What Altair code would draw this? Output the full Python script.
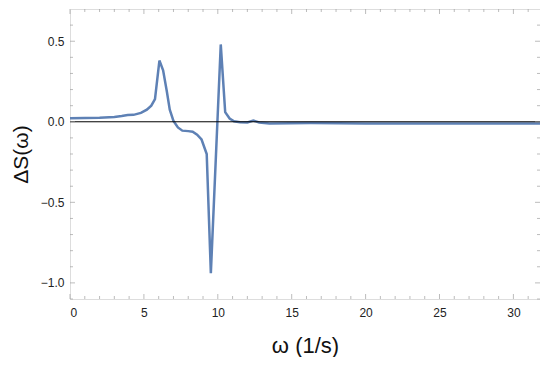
import altair as alt
import pandas as pd

# curve data
omega = [0.0, 1.0, 2.0, 3.0, 3.5, 3.9, 4.3, 4.8, 5.2, 5.5, 5.75, 6.05, 6.3, 6.55,
         6.75, 7.0, 7.3, 7.6, 8.0, 8.3, 8.6, 8.9, 9.25, 9.53, 10.2, 10.5, 10.8,
         11.1, 11.5, 12.0, 12.4, 12.8, 13.5, 16.3, 20.0, 25.0, 31.8]
dS = [0.022, 0.023, 0.025, 0.030, 0.036, 0.042, 0.043, 0.055, 0.075, 0.100, 0.140,
      0.380, 0.320, 0.190, 0.075, 0.005, -0.035, -0.055, -0.058, -0.062, -0.080,
      -0.110, -0.200, -0.940, 0.480, 0.060, 0.020, 0.003, -0.003, -0.004, 0.008,
      -0.004, -0.010, -0.008, -0.010, -0.010, -0.010]

x_major = [0, 5, 10, 15, 20, 25, 30]
x_minor = [i for i in range(32) if i % 5]
y_major = [-1.0, -0.5, 0.0, 0.5]
y_minor = [-1.1, -0.9, -0.8, -0.7, -0.6, -0.4, -0.3, -0.2, -0.1,
           0.1, 0.2, 0.3, 0.4, 0.6]

W, H = 470, 290
FONT = "Liberation Sans"
FRAME = "#a0a0a0"

df = pd.DataFrame({"omega": omega, "dS": dS})
xs = alt.Scale(domain=[0, 31.8], nice=False, zero=False)
ys = alt.Scale(domain=[-1.1, 0.7], nice=False, zero=False)

line = alt.Chart(df).mark_line(color="#5E81B5", strokeWidth=2.5, clip=True).encode(
    x=alt.X("omega:Q", scale=xs,
            axis=alt.Axis(values=x_major, ticks=False, domain=False, grid=False,
                          labelFont=FONT, labelFontSize=12, labelColor="#222",
                          labelPadding=8, title="ω (1/s)", titleFont=FONT,
                          titleFontSize=22, titleFontWeight="normal",
                          titleColor="#111", titlePadding=17)),
    y=alt.Y("dS:Q", scale=ys,
            axis=alt.Axis(values=y_major, format=".1f", ticks=False, domain=False,
                          grid=False, labelFont=FONT, labelFontSize=12,
                          labelColor="#222", labelPadding=6, title="ΔS(ω)",
                          titleFont=FONT, titleFontSize=21,
                          titleFontWeight="normal", titleColor="#111",
                          titlePadding=9)),
)

zero = alt.Chart(pd.DataFrame({"y": [0.0]})).mark_rule(color="black", strokeWidth=1).encode(
    y=alt.Y("y:Q", scale=ys)
)

def xticks(vals, size):
    d = pd.DataFrame({"v": vals})
    b = alt.Chart(d).mark_tick(color=FRAME, thickness=1, size=size).encode(
        x=alt.X("v:Q", scale=xs), y=alt.value(H - size / 2))
    t = alt.Chart(d).mark_tick(color=FRAME, thickness=1, size=size).encode(
        x=alt.X("v:Q", scale=xs), y=alt.value(size / 2))
    return [b, t]

def yticks(vals, size):
    d = pd.DataFrame({"v": vals})
    l = alt.Chart(d).mark_tick(color=FRAME, thickness=1, size=size).encode(
        y=alt.Y("v:Q", scale=ys), x=alt.value(size / 2))
    r = alt.Chart(d).mark_tick(color=FRAME, thickness=1, size=size).encode(
        y=alt.Y("v:Q", scale=ys), x=alt.value(W - size / 2))
    return [l, r]

layers = [line, zero] + xticks(x_major, 5) + xticks(x_minor, 3) + \
    yticks(y_major, 5) + yticks(y_minor, 3)

chart = alt.layer(*layers).properties(
    width=W, height=H,
    autosize=alt.AutoSizeParams(type="none"),
    padding={"left": 62, "top": 1, "right": 0, "bottom": 58},
).configure_view(stroke=FRAME, strokeWidth=1).configure(background="white")

chart.save("out.html", embed_options={"renderer": "svg", "actions": False})
